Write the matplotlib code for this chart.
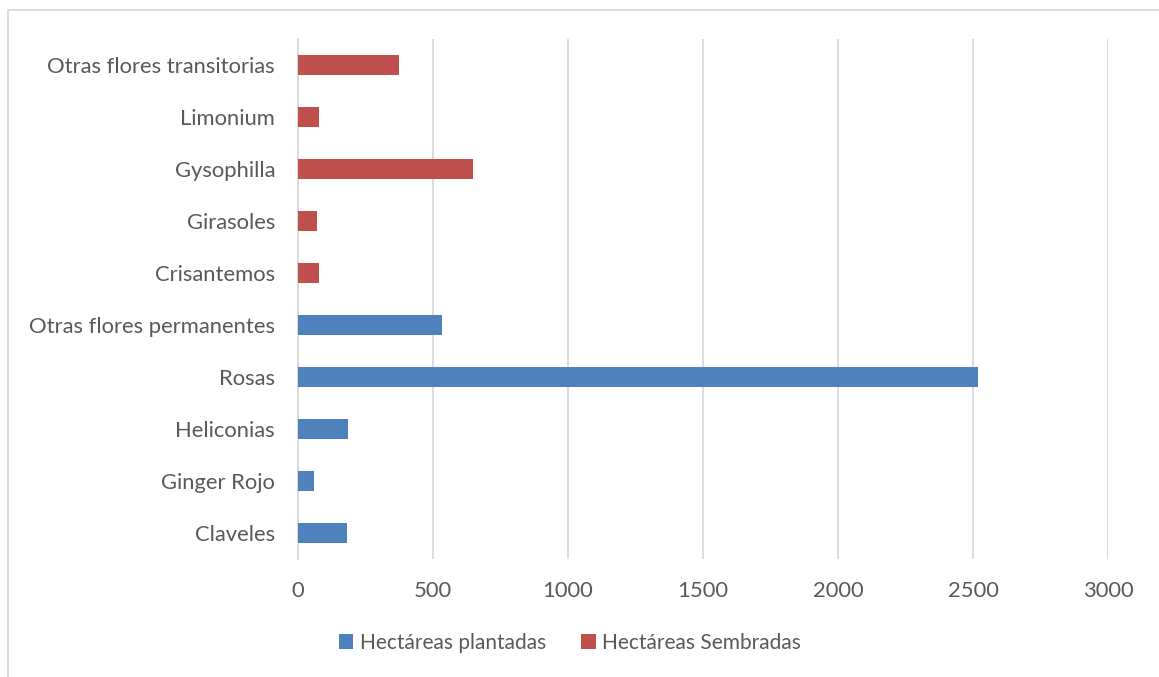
import matplotlib.pyplot as plt
from matplotlib.patches import Rectangle

categorias = ["Claveles", "Ginger Rojo", "Heliconias", "Rosas", "Otras flores permanentes",
              "Crisantemos", "Girasoles", "Gysophilla", "Limonium", "Otras flores transitorias"]
plantadas = [183, 58, 186, 2520, 532, 0, 0, 0, 0, 0]
sembradas = [0, 0, 0, 0, 0, 79, 72, 647, 77, 374]
xticks = [0, 500, 1000, 1500, 2000, 2500, 3000]

AZUL = "#4F81BD"
ROJO = "#C0504D"
GRIS_TXT = "#595959"
GRIS_LIN = "#D9D9D9"

plt.rcParams['font.family'] = ['Lato', 'DejaVu Sans']

fig = plt.figure(figsize=(11.59, 6.77), dpi=100)
ax = fig.add_axes([298/1159, 1 - 559/677, 810/1159, 520/677])

y = range(len(categorias))
ax.barh(y, plantadas, height=0.4, color=AZUL, label="Hectáreas plantadas", zorder=3)
ax.barh(y, sembradas, height=0.4, color=ROJO, label="Hectáreas Sembradas", zorder=3)

ax.set_xlim(0, 3000)
ax.set_ylim(-0.5, len(categorias) - 0.5)
ax.set_xticks(xticks)
ax.set_xticklabels([str(v) for v in xticks])
ax.set_yticks(list(y))
ax.set_yticklabels(categorias)
ax.tick_params(length=0, labelsize=15.8, colors=GRIS_TXT)
ax.tick_params(axis='x', pad=15.5)
ax.tick_params(axis='y', pad=16.5)
ax.grid(axis='x', color=GRIS_LIN, linewidth=1.3, zorder=0)
for s in ["top", "right", "bottom"]:
    ax.spines[s].set_visible(False)
ax.spines["left"].set_color(GRIS_LIN)
ax.spines["left"].set_linewidth(1.3)

fig.legend(loc="center", bbox_to_anchor=(570/1159, 1 - 643/677), ncol=2, frameon=False,
           fontsize=15, labelcolor=GRIS_TXT, handlelength=0.7, handleheight=0.7,
           handletextpad=0.3, columnspacing=1.7)

fig.patches.append(Rectangle((8/1159, -0.01), 1.0, 1 - 10/677 + 0.01, transform=fig.transFigure,
                             fill=False, edgecolor=GRIS_LIN, linewidth=1.3))

fig.savefig("out.png", dpi=100, facecolor="white")
